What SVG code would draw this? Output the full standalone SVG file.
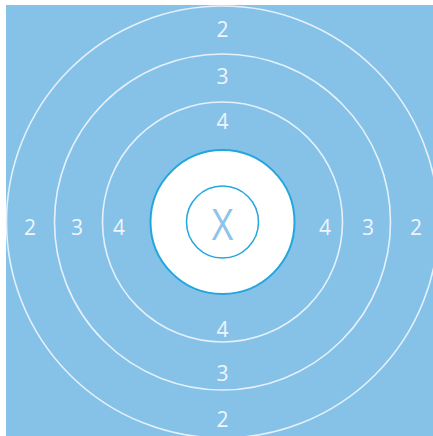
<svg xmlns="http://www.w3.org/2000/svg" width="433" height="436" viewBox="0 0 433 436">
<style>
.ring{fill:none;stroke:#e4f1fa;stroke-width:1.6}
.lbl{font-family:"Open Sans","Liberation Sans",sans-serif;font-size:21px;fill:#eef6fc;text-anchor:middle}
</style>
<rect x="0" y="0" width="433" height="436" fill="#ffffff"/>
<g id="target">
<rect x="6" y="5" width="427" height="431" fill="#86c1e8"/>
<circle class="ring" cx="222.5" cy="222" r="216"/>
<circle class="ring" cx="222.5" cy="222" r="168"/>
<circle class="ring" cx="222.5" cy="222" r="120"/>
<circle cx="222.5" cy="222" r="72" fill="#ffffff" stroke="#22a6de" stroke-width="2"/>
<circle cx="222.5" cy="222" r="36" fill="none" stroke="#22a6de" stroke-width="1.5"/>
<text x="222.5" y="240" font-family="'Open Sans','Liberation Sans',sans-serif" font-size="44" fill="#8ec4ea" text-anchor="middle" transform="translate(222.5 0) scale(0.85 1) translate(-222.5 0)">X</text>
</g>
<g id="labels">
<text class="lbl" x="222.5" y="37">2</text>
<text class="lbl" x="222.5" y="84">3</text>
<text class="lbl" x="222.5" y="129">4</text>
<text class="lbl" x="222.5" y="337">4</text>
<text class="lbl" x="222.5" y="381">3</text>
<text class="lbl" x="222.5" y="427">2</text>
<text class="lbl" x="30" y="235">2</text>
<text class="lbl" x="77" y="235">3</text>
<text class="lbl" x="119" y="235">4</text>
<text class="lbl" x="325" y="235">4</text>
<text class="lbl" x="368" y="235">3</text>
<text class="lbl" x="416" y="235">2</text>
</g>
</svg>
